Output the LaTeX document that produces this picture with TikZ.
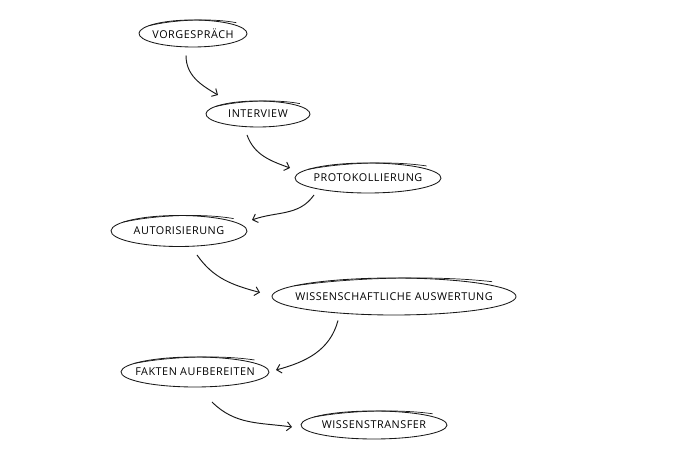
\documentclass[tikz,border=0pt]{standalone}
\usepackage{fontspec}
\setmainfont{Open Sans}
\usetikzlibrary{arrows.meta,calc}
\tikzset{
  lbl/.style={inner sep=0pt, text=black, font=\fontsize{10.8}{12}\selectfont\addfontfeatures{LetterSpace=5}},
  ell/.style={line width=0.85pt, draw=black!90},
  arr/.style={line width=0.95pt, draw=black!90, -{Straight Barb[length=4.5pt,width=9pt,line width=0.95pt]}},
}
\newcommand\skell[3]{%
  \draw[ell] (#1.center) ++(100:#2 and #3) arc[start angle=100,end angle=460,x radius=#2,y radius=#3];
  \draw[ell, line width=0.7pt] ($(#1.center)+(145:#2 and #3)$)
     .. controls ($(#1.center)+(110:#2 and 1.1*#3)$) and ($(#1.center)+(70:#2 and 1.22*#3)$)
     .. ($(#1.center)+(38:1.02*#2 and 1.3*#3)$);
}
\begin{document}
\begin{tikzpicture}[x=1pt,y=1pt]
\useasboundingbox (0,0) rectangle (677,454);
\node[lbl] (v) at (193,420.5) {VORGESPRÄCH};
\node[lbl] (i) at (258,340) {INTERVIEW};
\node[lbl] (p) at (368,276) {PROTOKOLLIERUNG};
\node[lbl] (a) at (179,223) {AUTORISIERUNG};
\node[lbl] (w) at (394,157.5) {WISSENSCHAFTLICHE AUSWERTUNG};
\node[lbl] (f) at (195,82) {FAKTEN AUFBEREITEN};
\node[lbl] (t) at (374,29) {WISSENSTRANSFER};
\skell{v}{54}{13.5}
\skell{i}{52}{13}
\skell{p}{73}{15}
\skell{a}{68}{15.5}
\skell{w}{122}{18.5}
\skell{f}{74}{15}
\skell{t}{73}{14}
\draw[arr] ($(v.center)+(-7,-22)$) to[out=-90,in=150] ($(i.center)+(-40,19)$);
\draw[arr] ($(i.center)+(-11,-21)$) to[out=-70,in=160] ($(p.center)+(-78,10)$);
\draw[arr] ($(p.center)+(-54,-17)$) to[out=-125,in=20] ($(a.center)+(73,11)$);
\draw[arr] ($(a.center)+(18,-24)$) to[out=-55,in=165] ($(w.center)+(-134,4)$);
\draw[arr] ($(w.center)+(-56,-24)$) to[out=-105,in=15] ($(f.center)+(81,2)$);
\draw[arr] ($(f.center)+(17,-30)$) to[out=-45,in=172] ($(t.center)+(-82,-2)$);
\end{tikzpicture}
\end{document}
